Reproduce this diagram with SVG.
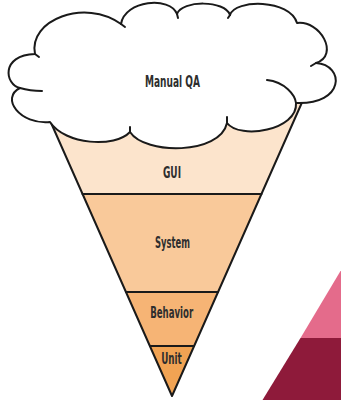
<svg xmlns="http://www.w3.org/2000/svg" width="341" height="401" viewBox="0 0 341 401">
  <style>
    .band { stroke: none; }
    .edge { fill: none; stroke: #1a1a1a; stroke-width: 2; stroke-linejoin: round; stroke-linecap: round; }
    .lbl { font-family: "Liberation Sans Narrow", "DejaVu Sans Condensed", "Liberation Sans", sans-serif; font-weight: bold; font-size: 16px; fill: #2e2e2e; text-anchor: middle; }
  </style>
  <rect width="341" height="401" fill="#ffffff"/>

  <g id="layer-gui">
    <polygon class="band" fill="#FCE4CC" points="36.5,90 307.5,90 261.5,194 82.5,194"/>
    <text class="lbl" x="172" y="178" textLength="18" lengthAdjust="spacingAndGlyphs">GUI</text>
  </g>
  <g id="layer-system">
    <polygon class="band" fill="#F9C99A" points="82.5,194 261.5,194 218,292 126,292"/>
    <text class="lbl" x="172.5" y="248" textLength="35" lengthAdjust="spacingAndGlyphs">System</text>
  </g>
  <g id="layer-behavior">
    <polygon class="band" fill="#F6B475" points="126,292 218,292 194,346 150,346"/>
    <text class="lbl" x="171.7" y="317.5" textLength="43" lengthAdjust="spacingAndGlyphs">Behavior</text>
  </g>
  <g id="layer-unit">
    <polygon class="band" fill="#F1A353" points="150,346 194,346 172,396"/>
    <text class="lbl" x="171.5" y="363.5" textLength="20.5" lengthAdjust="spacingAndGlyphs">Unit</text>
  </g>

  <g id="connectors">
    <path class="edge" d="M36.5,90 L172,396 L307.5,90"/>
    <line class="edge" x1="82.5" y1="194" x2="261.5" y2="194"/>
    <line class="edge" x1="126" y1="292" x2="218" y2="292"/>
    <line class="edge" x1="150" y1="346" x2="194" y2="346"/>
  </g>

  <g id="manual-qa">
    <path class="edge" fill="#ffffff" d="M35,54 C28,20 85,-2 121,24 C125,0 170,-4 177,14 C182,0 225,0 230,15 C235,-1 290,-1 297,23 C320,20 340,55 316,63 C345,65 345,105 296,103 C298,130 240,140 227,123 C220,155 145,155 130,132 C115,148 65,145 50,122 C20,125 0,98 20,88 C5,85 0,55 35,54 Z" style="fill:#ffffff"/>
    <path class="edge" d="M267,80 C285,82 295,95 296,103"/>
    <path class="edge" d="M42,91 Q30,91 20,88"/>
    <path class="edge" d="M121,24 L125,27"/>
    <path class="edge" d="M177,14 L178,18"/>
    <path class="edge" d="M230,15 L228,18"/>
    <path class="edge" d="M316,63 L311,66"/>
    <path class="edge" d="M227,123 L227,117"/>
    <path class="edge" d="M130,132 L130,127"/>
    <path class="edge" d="M35,54 L39,57"/>
    <text class="lbl" x="172.5" y="87" textLength="55" lengthAdjust="spacingAndGlyphs">Manual QA</text>
  </g>

  <g id="corner-shape">
    <polygon fill="#E46B8B" points="340.5,271 341,271 341,338 300.5,338"/>
    <polygon fill="#8E1A3A" points="300.5,338 341,338 341,400 262.5,400"/>
  </g>
</svg>
